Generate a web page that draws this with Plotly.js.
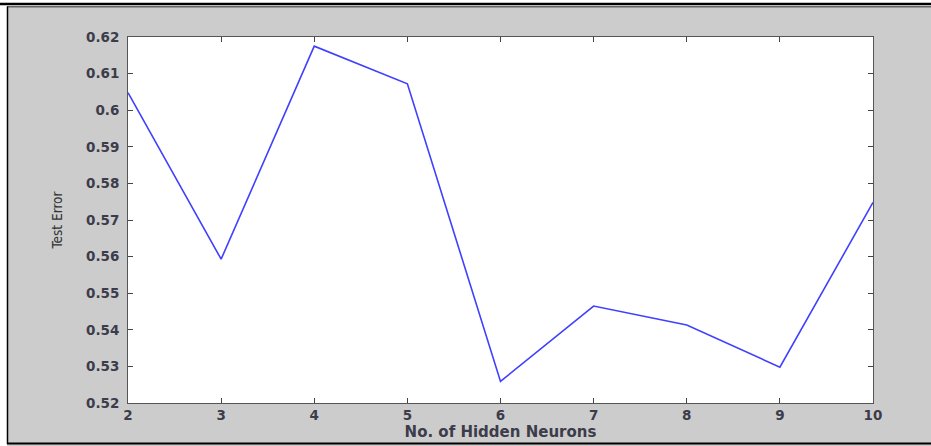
<!DOCTYPE html>
<html>
<head>
<meta charset="utf-8">
<script src="https://cdn.plot.ly/plotly-3.0.1.min.js"></script>
<style>html,body{margin:0;padding:0;background:#fff;}#chart{width:931px;height:446px;}</style>
</head>
<body>
<div id="chart"></div>
<script>
// Data
var hiddenNeurons = [2, 3, 4, 5, 6, 7, 8, 9, 10];
var testError = [0.6048, 0.5593, 0.6175, 0.6072, 0.5259, 0.5465, 0.5413, 0.5298, 0.5748];
var yTickVals = [0.52, 0.53, 0.54, 0.55, 0.56, 0.57, 0.58, 0.59, 0.60, 0.61, 0.62];
var yTickText = ['0.52', '0.53', '0.54', '0.55', '0.56', '0.57', '0.58', '0.59', '0.6', '0.61', '0.62'];
var xTickVals = [2, 3, 4, 5, 6, 7, 8, 9, 10];
var xTickText = ['2', '3', '4', '5', '6', '7', '8', '9', '10'];

var W = 931, H = 446;
var M = {l: 128, r: 58, t: 37, b: 43};
var PW = W - M.l - M.r, PH = H - M.t - M.b;
function px(x) { return (x - M.l) / PW; }
function py(y) { return (H - M.b - y) / PH; }

var tickFont = {family: 'DejaVu Sans', size: 13.5, color: '#3c3c4a', weight: 'bold'};

var trace = {
  x: hiddenNeurons,
  y: testError,
  type: 'scatter',
  mode: 'lines',
  line: {color: '#4040ff', width: 1.6},
  hoverinfo: 'none'
};

var shapes = [
  {type: 'rect', xref: 'paper', yref: 'paper', x0: px(0), x1: px(W), y0: py(0), y1: py(7), fillcolor: '#ffffff', line: {width: 0}, layer: 'above'},
  {type: 'rect', xref: 'paper', yref: 'paper', x0: px(0), x1: px(7), y0: py(0), y1: py(H), fillcolor: '#ffffff', line: {width: 0}, layer: 'above'},
  {type: 'line', xref: 'paper', yref: 'paper', x0: px(0), x1: px(W), y0: py(4), y1: py(4), line: {color: '#000', width: 2.5}, layer: 'above'},
  {type: 'line', xref: 'paper', yref: 'paper', x0: px(7), x1: px(W), y0: py(6.8), y1: py(6.8), line: {color: '#222', width: 1}, layer: 'above'},
  {type: 'line', xref: 'paper', yref: 'paper', x0: px(7.5), x1: px(7.5), y0: py(6.5), y1: py(444), line: {color: '#000', width: 1.5}, layer: 'above'},
  {type: 'line', xref: 'paper', yref: 'paper', x0: px(7), x1: px(W), y0: py(443.5), y1: py(443.5), line: {color: '#000', width: 2}, layer: 'above'}
];

var layout = {
  width: W,
  height: H,
  margin: M,
  paper_bgcolor: '#cccccc',
  plot_bgcolor: '#ffffff',
  showlegend: false,
  xaxis: {
    range: [2, 10],
    tickvals: xTickVals,
    ticktext: xTickText,
    ticks: 'inside',
    ticklen: 5,
    tickcolor: '#444',
    showgrid: false,
    zeroline: false,
    showline: true,
    linecolor: '#555',
    linewidth: 1,
    mirror: 'ticks',
    tickfont: tickFont,
    title: {text: 'No. of Hidden Neurons', font: {family: 'DejaVu Sans', size: 15, color: '#3c3c4a', weight: 'bold'}, standoff: 3}
  },
  yaxis: {
    range: [0.52, 0.62],
    tickvals: yTickVals,
    ticktext: yTickText,
    ticks: 'inside',
    ticklen: 5,
    tickcolor: '#444',
    showgrid: false,
    zeroline: false,
    showline: true,
    linecolor: '#555',
    linewidth: 1,
    mirror: 'ticks',
    tickfont: tickFont,
    ticklabelstandoff: 5,
    title: {text: 'Test Error', font: {family: 'DejaVu Sans Condensed, Liberation Sans, Arial, sans-serif', size: 13.5, color: '#333'}, standoff: 20}
  },
  shapes: shapes
};

Plotly.newPlot('chart', [trace], layout, {staticPlot: true, displayModeBar: false});
</script>
</body>
</html>
